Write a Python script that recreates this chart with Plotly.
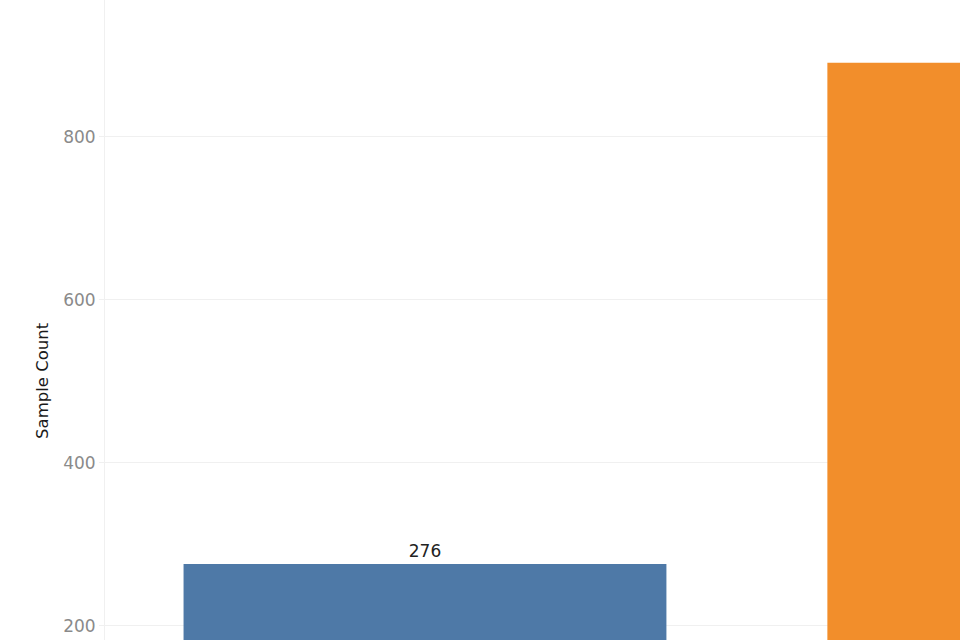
import plotly.graph_objects as go

# data (x labels are outside the visible region)
groups = ["Group A", "Group B"]
sample_counts = [276, 891]
bar_colors = ["#4e79a7", "#f28e2b"]
y_ticks = [200, 400, 600, 800]

fig = go.Figure()
fig.add_trace(go.Bar(
    x=groups,
    y=sample_counts,
    marker=dict(color=bar_colors, line=dict(width=0)),
    text=[str(v) for v in sample_counts],
    textposition="outside",
    textfont=dict(family="DejaVu Sans", size=17, color="#222222"),
    cliponaxis=False,
))

fig.update_layout(
    width=960,
    height=640,
    autosize=False,
    margin=dict(l=105, r=0, t=0, b=0),
    paper_bgcolor="white",
    plot_bgcolor="white",
    bargap=0.25,
    showlegend=False,
    font=dict(family="DejaVu Sans"),
    xaxis=dict(
        range=[-0.497, 0.831],
        showgrid=False,
        showticklabels=False,
        showline=True,
        linecolor="#f0f0f0",
        zeroline=False,
    ),
    yaxis=dict(
        range=[182.8, 968],
        tickvals=y_ticks,
        tickfont=dict(family="DejaVu Sans", size=17, color="#8a8a8a"),
        gridcolor="#f0f0f0",
        gridwidth=1,
        ticks="outside",
        ticklen=5,
        tickcolor="#f0f0f0",
        showline=True,
        linecolor="#f0f0f0",
        zeroline=False,
    ),
    annotations=[dict(
        text="Sample Count",
        xref="paper", yref="paper",
        x=-0.074, y=0.406,
        xanchor="center", yanchor="middle",
        textangle=-90,
        showarrow=False,
        font=dict(family="DejaVu Sans", size=16.5, color="#1a1a1a"),
    )],
)

# drop the page's default body margin so the chart sits at the window's corner
fig.write_html(
    "out.html",
    config={"displayModeBar": False},
    post_script="document.body.style.margin='0';",
)
